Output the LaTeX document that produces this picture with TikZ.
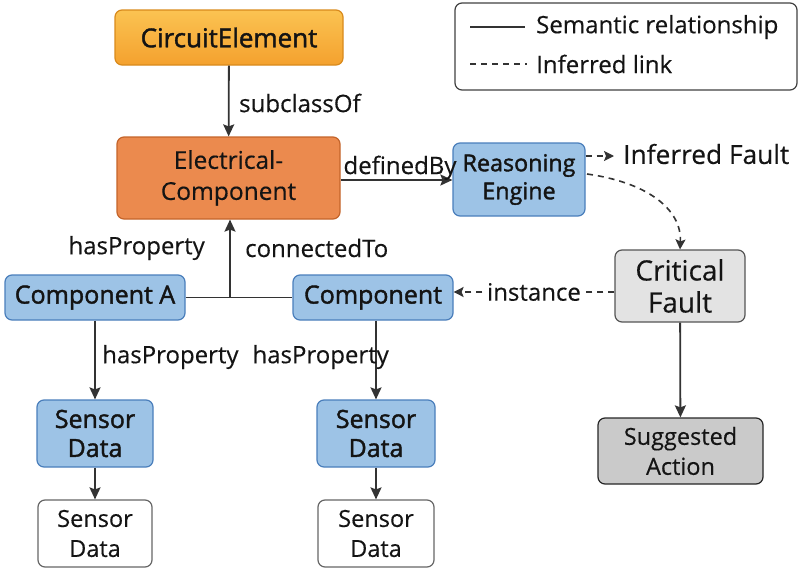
\documentclass[tikz,border=0pt]{standalone}
\usepackage{fontspec}
\setmainfont{Open Sans}[FakeBold=0.35]
\newfontfamily\semib{Open Sans}[FakeBold=1.6]
\usetikzlibrary{arrows.meta,positioning}
\definecolor{ln}{HTML}{333333}
\definecolor{orT}{HTML}{FBC352}
\definecolor{orA}{HTML}{F4A12E}
\definecolor{orAb}{HTML}{D98A1C}
\definecolor{orB}{HTML}{EB8A4E}
\definecolor{orBb}{HTML}{C4642A}
\definecolor{blF}{HTML}{9DC3E6}
\definecolor{blB}{HTML}{4A7EBB}
\definecolor{grA}{HTML}{E3E3E3}
\definecolor{grB}{HTML}{CACACA}
\definecolor{grBd}{HTML}{555555}
\tikzset{
  box/.style={draw, rounded corners=7pt, line width=1.2pt, align=center, inner sep=0pt, text=black!92},
  lbl/.style={font=\fontsize{24}{28}\selectfont, text=black!92, inner sep=1pt},
  arr/.style={draw=ln, line width=1.8pt, -{Stealth[length=12pt,width=11pt,inset=2pt]}},
  dsh/.style={draw=ln, line width=1.6pt, dash pattern=on 6pt off 5pt, -{Stealth[length=10pt,width=10pt,inset=2pt]}},
}
\begin{document}
\begin{tikzpicture}[x=1pt,y=-1pt]
\useasboundingbox (0,0) rectangle (800,570);
% nodes
\node[box, font=\semib\fontsize{26}{30}\selectfont, draw=orAb, top color=orT, bottom color=orA, minimum width=228pt, minimum height=55pt] (ce) at (229,37.5) {CircuitElement};
\node[box, font=\fontsize{24.5}{31}\selectfont, draw=orBb, fill=orB, minimum width=223pt, minimum height=82pt] (ec) at (228.5,178) {Electrical-\\Component};
\node[box, font=\semib\fontsize{23.3}{28}\selectfont, draw=blB, fill=blF, minimum width=132pt, minimum height=73pt] (re) at (519,179.5) {Reasoning\\Engine};
\node[box, font=\fontsize{28}{32}\selectfont, draw=grBd, fill=grA, minimum width=130pt, minimum height=72pt] (cf) at (680,286) {Critical\\Fault};
\node[box, font=\fontsize{23.5}{30}\selectfont, draw=black!85, fill=grB, minimum width=165pt, minimum height=66pt] (sa) at (680.5,451) {Suggested\\Action};
\node[box, font=\semib\fontsize{25}{28}\selectfont, draw=blB, fill=blF, minimum width=180pt, minimum height=45pt] (ca) at (95,297.5) {Component A};
\node[box, font=\semib\fontsize{25}{28}\selectfont, draw=blB, fill=blF, minimum width=160pt, minimum height=45pt] (cb) at (373,297.5) {Component};
\node[box, font=\semib\fontsize{25}{29}\selectfont, draw=blB, fill=blF, minimum width=116pt, minimum height=67pt] (s1) at (95,433.5) {Sensor\\Data};
\node[box, font=\semib\fontsize{25}{29}\selectfont, draw=blB, fill=blF, minimum width=118pt, minimum height=67pt] (s2) at (376,433.5) {Sensor\\Data};
\node[box, font=\fontsize{23.5}{30}\selectfont, draw=black!60, fill=white, minimum width=114pt, minimum height=67pt] (w1) at (95,533.5) {Sensor\\Data};
\node[box, font=\fontsize{23.5}{30}\selectfont, draw=black!60, fill=white, minimum width=116pt, minimum height=67pt] (w2) at (376,533.5) {Sensor\\Data};
% legend
\node[draw=black!75, rounded corners=7pt, line width=1.2pt, minimum width=342pt, minimum height=87pt, inner sep=0pt] (lg) at (626,46.5) {};
\coordinate (l1a) at (470,27); \coordinate (l1b) at (525,27);
\coordinate (l2a) at (470,64); \coordinate (l2b) at (527,64);
\draw[ln, line width=1.8pt] (l1a) -- (l1b);
\draw[ln, line width=1.6pt, dash pattern=on 6pt off 5pt] (l2a) -- (l2b);
\node[lbl, anchor=west] (t1) at (535,27) {Semantic relationship};
\node[lbl, anchor=west] (t2) at (535,64) {Inferred link};
% inferred fault text
\node[lbl, anchor=west, font=\fontsize{26.3}{30}\selectfont] (if) at (622,154) {Inferred Fault};
% edges
\draw[arr] (ce) -- (ec);
\node[lbl, anchor=west] (lsub) at (238,103) {subclassOf};
\draw[arr] (ec.east |- 0,180) -- (re.west |- 0,180);
\node[lbl, anchor=south] (ldef) at (400,181) {definedBy};
\coordinate (jn) at (230,297.5);
\draw[ln, line width=1.8pt] (ca.east) -- (cb.west);
\draw[arr] (jn) -- (jn |- ec.south);
\node[lbl, anchor=east] (lhp0) at (206,248) {hasProperty};
\node[lbl, anchor=west] (lct) at (244,248) {connectedTo};
\draw[arr] (ca) -- (s1);
\draw[arr] (cb.south -| s2) -- (s2);
\node[lbl, anchor=west] (lhp1) at (101,357) {hasProperty};
\node[lbl, anchor=east] (lhp2) at (390,357) {hasProperty};
\draw[arr] (s1) -- (w1);
\draw[arr] (s2) -- (w2);
\draw[dsh] (re.east |- 0,156) -- (614,156);
\draw[dsh] (587,174) .. controls (645,182) and (682,208) .. (cf.north);
\draw[dsh] (cf.west |- 0,292) -- (cb.east |- 0,292) node[midway, fill=white, lbl, inner sep=2pt] (lin) {instance};
\draw[arr] (cf) -- (sa);
\end{tikzpicture}
\end{document}
